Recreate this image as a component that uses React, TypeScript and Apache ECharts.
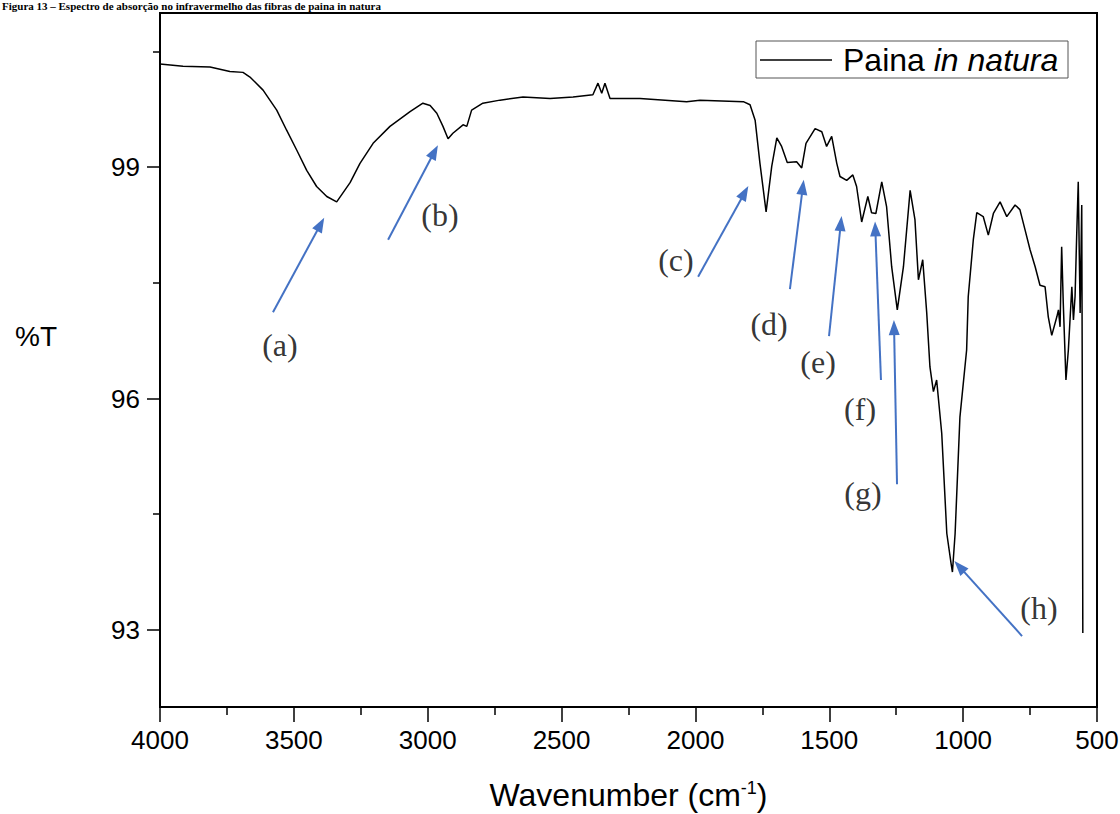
import React, { useEffect, useRef } from "react";
import * as echarts from "echarts";

// Spectrum (wavenumber cm-1, %T)
const wavenumber = [
  4000, 3914, 3813, 3739, 3690, 3664, 3615, 3564, 3527, 3489, 3452, 3415, 3377, 3340, 3316, 3290,
  3253, 3204, 3141, 3066, 3018, 2991, 2966, 2943, 2924, 2906, 2868, 2854, 2836, 2794, 2730, 2644,
  2543, 2457, 2383, 2364, 2350, 2338, 2319, 2207, 2033, 1983, 1821, 1796, 1777, 1759, 1736, 1715,
  1696, 1678, 1657, 1622, 1603, 1587, 1553, 1528, 1510, 1491, 1472, 1460, 1435, 1412, 1398, 1379,
  1356, 1342, 1326, 1304, 1286, 1267, 1246, 1223, 1198, 1180, 1167, 1151, 1136, 1124, 1111, 1099,
  1080, 1061, 1045, 1040, 1030, 1012, 987, 981, 962, 949, 925, 906, 887, 862, 837, 806,
  788, 769, 750, 731, 713, 694, 682, 669, 650, 644, 638, 632, 626, 616, 607, 594,
  588, 582, 576, 570, 563, 557, 555, 553,
];
const transmittance = [
  100.34, 100.31, 100.3, 100.24, 100.23, 100.17, 100.0, 99.74, 99.48, 99.22, 98.96, 98.75, 98.62, 98.55, 98.67, 98.8,
  99.05, 99.31, 99.53, 99.72, 99.83, 99.8, 99.7, 99.53, 99.37, 99.44, 99.55, 99.53, 99.74, 99.83, 99.87, 99.91,
  99.89, 99.91, 99.94, 100.09, 99.96, 100.09, 99.89, 99.89, 99.85, 99.87, 99.85, 99.81, 99.61, 99.05, 98.42, 99.01,
  99.38, 99.27, 99.06, 99.07, 98.99, 99.31, 99.5, 99.46, 99.27, 99.4, 99.05, 98.88, 98.83, 98.9, 98.75, 98.29,
  98.62, 98.41, 98.4, 98.81, 98.49, 97.71, 97.15, 97.71, 98.7, 98.32, 97.54, 97.8, 97.11, 96.41, 96.09, 96.24,
  95.55, 94.25, 93.86, 93.75, 94.25, 95.76, 96.63, 97.32, 98.06, 98.41, 98.36, 98.12, 98.4, 98.55, 98.36, 98.51,
  98.45, 98.19, 97.93, 97.71, 97.47, 97.45, 97.06, 96.82, 97.06, 97.15, 96.93, 97.97, 97.24, 96.24, 96.63, 97.45,
  97.02, 97.32, 98.1, 98.81, 97.11, 98.51, 96.24, 92.96,
];

const yLabelValues = [93, 96, 99];
const yMinorValues = [94.5, 97.5, 100.5];

// Band annotations (data coordinates)
const peakLabels = ["(a)", "(b)", "(c)", "(d)", "(e)", "(f)", "(g)", "(h)"];
const arrowTail = [
  [3578, 97.12], [3148, 98.06], [1990, 97.58], [1647, 97.42],
  [1501, 96.81], [1307, 96.24], [1247, 94.89], [780, 92.92],
];
const arrowTip = [
  [3400, 98.26], [2975, 99.2], [1816, 98.67], [1599, 98.74],
  [1457, 98.27], [1328, 98.2], [1258, 96.92], [1014, 93.82],
];
const labelPos = [
  [3552, 96.69], [2954, 98.38], [2073, 97.8], [1725, 96.97],
  [1542, 96.47], [1385, 95.86], [1374, 94.78], [717, 93.28],
];

const SANS = "'Liberation Sans', Arial, sans-serif";
const SERIF = "'Liberation Serif', 'Times New Roman', serif";

export default function App() {
  const ref = useRef<HTMLDivElement>(null);
  useEffect(() => {
    if (!ref.current) return;
    const chart = echarts.init(ref.current, undefined, { renderer: "svg" });
    const spectrum = wavenumber.map((w, i) => [w, transmittance[i]]);
    const option: any = {
      animation: false,
      backgroundColor: "#fff",
      grid: {
        left: 160, right: 23, top: 13, bottom: 107,
        outerBoundsMode: "none",
        containLabel: false,
        show: true, borderColor: "#000", borderWidth: 2, backgroundColor: "transparent",
      },
      xAxis: {
        type: "value", min: 500, max: 4000, interval: 500, inverse: true,
        axisLine: { show: true, lineStyle: { color: "#000", width: 2 } },
        axisTick: { show: true, length: 15, lineStyle: { color: "#000", width: 1.5 } },
        minorTick: { show: true, splitNumber: 2, length: 8, lineStyle: { color: "#000", width: 1.5 } },
        splitLine: { show: false },
        axisLabel: {
          color: "#000", fontSize: 26, fontFamily: SANS, margin: 20,
          formatter: (v: number) => String(v),
        },
        name: "{n|Wavenumber (cm}{s|-1}{n|)}",
        nameLocation: "middle",
        nameGap: 72,
        nameTextStyle: {
          rich: {
            n: { fontSize: 32, fontFamily: SANS, color: "#000" },
            s: { fontSize: 18, fontFamily: SANS, color: "#000", verticalAlign: "top", padding: [0, 0, 12, 0] },
          },
        },
      },
      yAxis: [
        {
          type: "value", min: 92, max: 101,
          axisLine: { show: true, lineStyle: { color: "#000", width: 2 } },
          axisTick: { show: true, length: 13, customValues: yLabelValues, lineStyle: { color: "#000", width: 1.5 } },
          axisLabel: {
            color: "#000", fontSize: 26, fontFamily: SANS, margin: 20, customValues: yLabelValues,
            formatter: (v: number) => String(v),
          },
          splitLine: { show: false },
        },
        {
          type: "value", min: 92, max: 101, position: "left",
          axisLine: { show: false },
          axisTick: { show: true, length: 7, customValues: yMinorValues, lineStyle: { color: "#000", width: 1.5 } },
          axisLabel: { show: false },
          splitLine: { show: false },
        },
      ],
      series: [
        {
          type: "line",
          name: "Paina in natura",
          data: spectrum,
          showSymbol: false,
          symbol: "none",
          lineStyle: { color: "#000", width: 1.5 },
          markLine: {
            silent: true,
            symbol: ["none", "triangle"],
            symbolSize: [11, 15],
            lineStyle: { color: "#4472C4", width: 2, type: "solid" },
            itemStyle: { color: "#4472C4" },
            label: { show: false },
            emphasis: { disabled: true },
            data: arrowTail.map((t, i) => [{ coord: t }, { coord: arrowTip[i] }]),
          },
        },
        {
          type: "scatter",
          name: "labels",
          symbolSize: 1,
          itemStyle: { color: "rgba(0,0,0,0)" },
          silent: true,
          data: labelPos.map((p, i) => ({ value: p, name: peakLabels[i] })),
          label: {
            show: true, position: "inside", formatter: "{b}",
            fontFamily: SERIF, fontSize: 32, color: "#000",
          },
        },
      ],
      graphic: [
        {
          type: "text", left: 15, top: 322,
          style: { text: "%T", font: `28px ${SANS}`, fill: "#000" },
        },
        {
          type: "text", x: 2, y: 0,
          style: {
            text: "Figura 13 – Espectro de absorção no infravermelho das fibras de paina in natura",
            font: `bold 11px ${SERIF}`, fill: "#000", verticalAlign: "top",
          },
        },
        {
          type: "group",
          children: [
            {
              type: "rect",
              shape: { x: 756, y: 41, width: 312, height: 37 },
              style: { fill: "#fff", stroke: "#555", lineWidth: 1 },
            },
            {
              type: "line",
              shape: { x1: 760, y1: 60, x2: 832, y2: 60 },
              style: { stroke: "#000", lineWidth: 1.5 },
            },
            {
              type: "text", x: 843, y: 60,
              style: {
                text: "{r|Paina }{i|in natura}",
                verticalAlign: "middle",
                rich: {
                  r: { fontSize: 32, fontFamily: SANS, fill: "#000", color: "#000" },
                  i: { fontSize: 32, fontFamily: SANS, fontStyle: "italic", fill: "#000", color: "#000" },
                },
              },
            },
          ],
        },
      ],
    };
    chart.setOption(option);
    return () => chart.dispose();
  }, []);
  return (
    <div
      ref={ref}
      style={{ position: "fixed", left: 0, top: 0, width: 1120, height: 814, background: "#fff" }}
    />
  );
}
